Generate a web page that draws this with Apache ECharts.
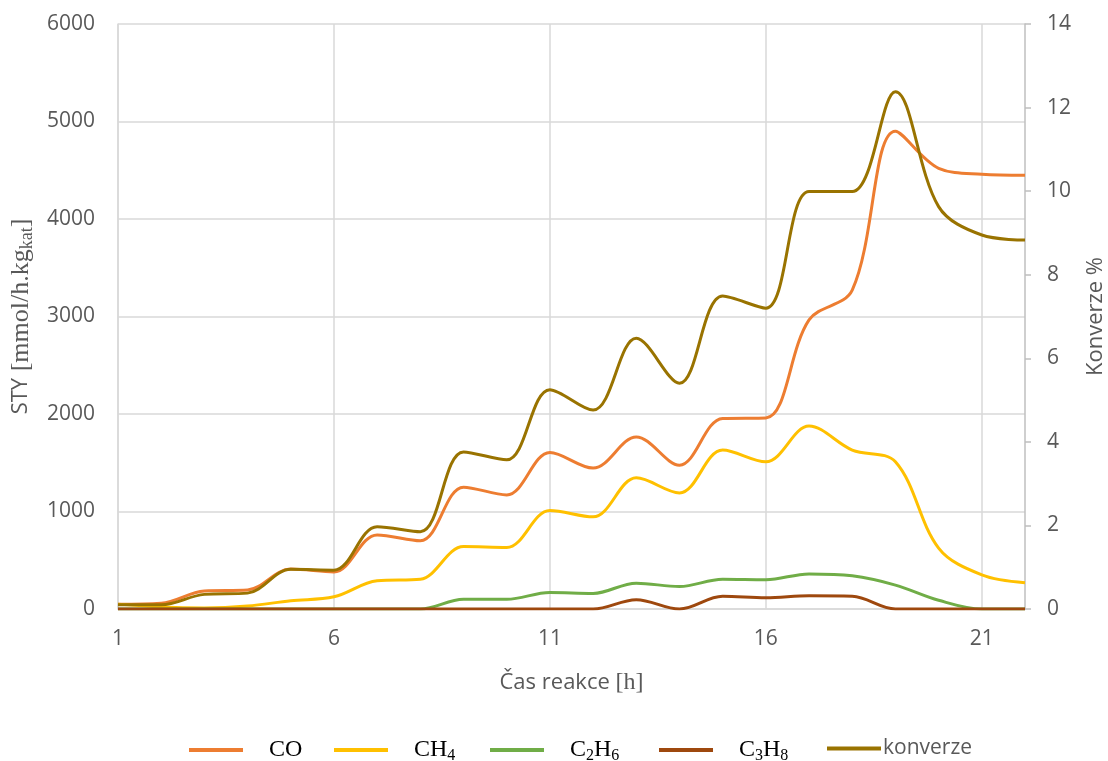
<!DOCTYPE html>
<html><head><meta charset="utf-8">
<script src="https://cdn.jsdelivr.net/npm/echarts@6/dist/echarts.min.js"></script>
<style>html,body{margin:0;padding:0;background:#fff;overflow:hidden}#c{width:1108px;height:761px}</style>
</head><body><div id="c"></div>
<script>
const hours = ['1','2','3','4','5','6','7','8','9','10','11','12','13','14','15','16','17','18','19','20','21','22'];
const CO   = [50, 60, 185, 195, 410, 380, 760, 700, 1250, 1170, 1605, 1445, 1765, 1475, 1955, 1960, 2965, 3270, 4900, 4520, 4460, 4450];
const CH4  = [50, 20, 10, 30, 85, 125, 290, 305, 640, 630, 1010, 945, 1345, 1190, 1630, 1510, 1877, 1630, 1510, 625, 350, 270];
const C2H6 = [0, 0, 0, 0, 0, 0, 0, 0, 100, 100, 170, 160, 265, 230, 305, 300, 360, 340, 245, 90, 0, 0];
const C3H8 = [0, 0, 0, 0, 0, 0, 0, 0, 0, 0, 0, 0, 95, 0, 130, 115, 135, 130, 0, 0, 0, 0];
const konverze = [0.1, 0.1, 0.35, 0.38, 0.95, 0.93, 1.97, 1.85, 3.76, 3.57, 5.25, 4.76, 6.48, 5.4, 7.49, 7.2, 9.99, 9.99, 12.38, 9.63, 8.95, 8.83];
const seriesNames = ['CO','CH4','C2H6','C3H8','konverze'];

const colors = {CO:'#ED7D31', CH4:'#FFC000', C2H6:'#70AD47', C3H8:'#9E480E', konverze:'#997300'};
const legendLeft = {CO:184, CH4:329, C2H6:485, C3H8:654, konverze:822};
const grey = '#595959';
const gridCol = '#d9d9d9';
const sansFont = 'Open Sans';
const serif = 'Liberation Serif';

const chart = echarts.init(document.getElementById('c'));
function line(name, data, axis){
  return {name, type:'line', data, yAxisIndex: axis, smooth:0.35, symbol:'none',
    lineStyle:{width:3, color:colors[name]}, itemStyle:{color:colors[name]}};
}
const legendRich = {
  f:{fontFamily:serif, fontSize:24, color:'#000', lineHeight:28, padding:[0,0,0,24]},
  t:{fontFamily:serif, fontSize:24, color:'#000', lineHeight:28},
  s:{fontFamily:serif, fontSize:16, color:'#000', lineHeight:18, verticalAlign:'bottom'},
  k:{fontFamily:sansFont, fontSize:21, color:grey, lineHeight:28}
};
function legendFmt(n){
  if(n==='CO') return '{f|CO}';
  if(n==='CH4') return '{f|CH}{s|4}';
  if(n==='C2H6') return '{f|C}{s|2}{t|H}{s|6}';
  if(n==='C3H8') return '{f|C}{s|3}{t|H}{s|8}';
  return '{k|konverze}';
}
const legends = seriesNames.map(n => ({
  left: legendLeft[n], top:733, itemWidth:54, itemHeight:4, icon:'rect',
  data:[n], formatter:legendFmt,
  textStyle:{rich:legendRich, padding:[0,0,0,-3]}
}));
chart.setOption({
  animation:false,
  grid:{left:118, right:83, top:24, bottom:152, outerBoundsMode:'none'},
  legend:legends,
  xAxis:{
    type:'category', data:hours, boundaryGap:false,
    name:'{a|Čas reakce }{b|[h]}', nameLocation:'middle', nameGap:60,
    nameTextStyle:{rich:{
      a:{fontFamily:sansFont, fontSize:22, color:grey, lineHeight:28},
      b:{fontFamily:serif, fontSize:24, color:grey, lineHeight:28}
    }},
    axisLine:{lineStyle:{color:gridCol, width:1.5}},
    axisTick:{show:false},
    axisLabel:{interval:4, fontFamily:sansFont, fontSize:21, color:grey, margin:20},
    splitLine:{show:true, interval:4, lineStyle:{color:gridCol, width:1.5}}
  },
  yAxis:[{
    type:'value', min:0, max:6000, interval:1000,
    name:'{c|STY}{a| [mmol/h.kg}{b|kat}{a|]}', nameLocation:'middle', nameGap:80,
    nameTextStyle:{rich:{
      c:{fontFamily:sansFont, fontSize:22, color:grey, lineHeight:30},
      a:{fontFamily:serif, fontSize:26, color:grey, lineHeight:30},
      b:{fontFamily:serif, fontSize:18, color:grey, lineHeight:18, verticalAlign:'bottom'}
    }},
    axisLine:{show:true, lineStyle:{color:gridCol, width:1.5}},
    axisTick:{show:false},
    axisLabel:{fontFamily:sansFont, fontSize:21, color:grey, margin:23, formatter:function(v){return String(v);}},
    splitLine:{lineStyle:{color:gridCol, width:1.5}}
  },{
    type:'value', min:0, max:14, interval:2, position:'right',
    name:'Konverze %', nameLocation:'middle', nameGap:60, nameRotate:90,
    nameTextStyle:{fontFamily:sansFont, fontSize:22, color:grey},
    axisLine:{show:true, lineStyle:{color:'#bfbfbf', width:1.5}},
    axisTick:{show:true, length:6, lineStyle:{color:'#bfbfbf', width:1.5}},
    axisLabel:{fontFamily:sansFont, fontSize:21, color:grey, margin:22},
    splitLine:{show:false}
  }],
  series:[
    line('CO', CO, 0),
    line('CH4', CH4, 0),
    line('C2H6', C2H6, 0),
    line('C3H8', C3H8, 0),
    line('konverze', konverze, 1)
  ]
});
</script></body></html>
